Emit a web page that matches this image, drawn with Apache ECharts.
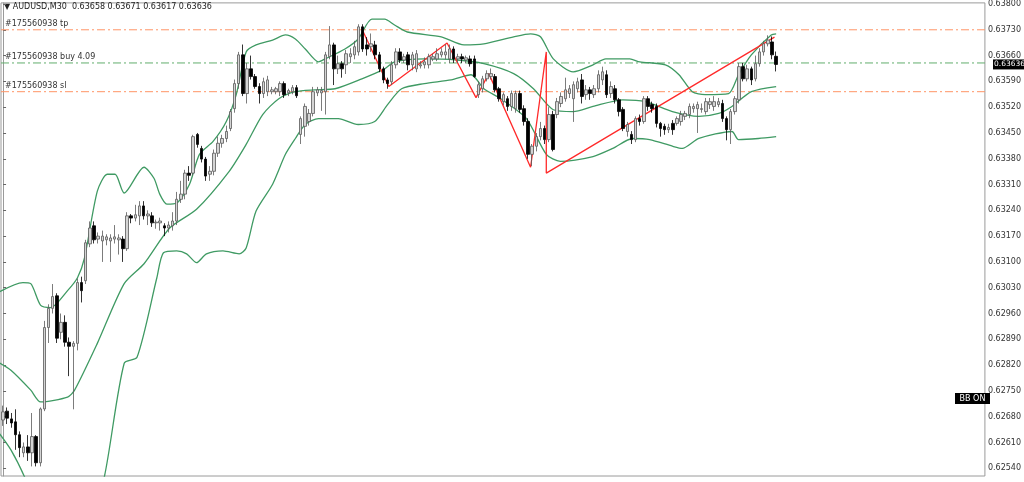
<!DOCTYPE html>
<html>
<head>
<meta charset="utf-8">
<script src="https://cdn.jsdelivr.net/npm/echarts@6/dist/echarts.min.js"></script>
<style>html,body{margin:0;padding:0;background:#fff}#chart{width:1024px;height:482px}</style>
</head>
<body>
<div id="chart"></div>
<script>
// AUDUSD M30 with Bollinger bands
const SLOTS = 238;

const opens = [
  .62671,.62695,.62674,.62666,.62631,.62582,.62598,.62582,.62626,.62555,
  .62701,.62922,.62974,.63008,.62909,.62936,.62882,.62871,.62879,.63044,
  .63049,.63149,.63198,.63162,.63157,.63160,.63157,.63162,.63160,.63162,
  .63136,.63225,.63219,.63225,.63252,.63225,.63225,.63206,.63206,.63198,
  .63192,.63198,.63211,.63270,.63284,.63341,.63341,.63446,.63408,.63379,
  .63338,.63346,.63395,.63422,.63435,.63462,.63516,.63584,.63662,.63557,
  .63624,.63603,.63576,.63557,.63562,.63562,.63562,.63562,.63584,.63559,
  .63562,.63573,.63446,.63468,.63481,.63503,.63559,.63559,.63562,.63657,
  .63689,.63624,.63638,.63635,.63657,.63662,.63670,.63738,.63689,.63684,
  .63689,.63662,.63624,.63594,.63589,.63635,.63670,.63648,.63662,.63635,
  .63624,.63632,.63635,.63635,.63651,.63651,.63662,.63662,.63651,.63678,
  .63651,.63657,.63648,.63651,.63651,.63554,.63570,.63597,.63603,.63603,
  .63570,.63535,.63543,.63522,.63516,.63557,.63516,.63481,.63392,.63414,
  .63440,.63462,.63432,.63500,.63500,.63530,.63543,.63557,.63543,.63570,
  .63594,.63554,.63567,.63554,.63570,.63594,.63608,.63557,.63570,.63540,
  .63514,.63454,.63446,.63432,.63489,.63481,.63543,.63527,.63522,.63476,
  .63468,.63459,.63476,.63476,.63481,.63495,.63500,.63516,.63516,.63514,
  .63508,.63527,.63522,.63527,.63530,.63489,.63459,.63508,.63540,.63630,
  .63597,.63624,.63597,.63638,.63670,.63692,.63697,.63658
];
const closes = [
  .62693,.62676,.62663,.62631,.62596,.62598,.62582,.62626,.62555,.62701,
  .62922,.62974,.63006,.62893,.62936,.62882,.62871,.62879,.63044,.63022,
  .63152,.63192,.63160,.63170,.63170,.63168,.63165,.63168,.63165,.63136,
  .63225,.63219,.63228,.63252,.63225,.63230,.63206,.63208,.63211,.63192,
  .63200,.63211,.63270,.63284,.63341,.63335,.63440,.63419,.63379,.63333,
  .63346,.63395,.63422,.63435,.63454,.63508,.63584,.63662,.63557,.63624,
  .63603,.63576,.63557,.63589,.63594,.63567,.63570,.63584,.63554,.63565,
  .63573,.63551,.63489,.63522,.63503,.63562,.63567,.63565,.63662,.63689,
  .63624,.63638,.63624,.63665,.63665,.63684,.63738,.63678,.63678,.63692,
  .63662,.63624,.63594,.63584,.63635,.63670,.63648,.63657,.63635,.63662,
  .63665,.63635,.63643,.63657,.63657,.63665,.63670,.63670,.63678,.63651,
  .63657,.63651,.63654,.63638,.63603,.63581,.63597,.63611,.63611,.63567,
  .63543,.63554,.63522,.63557,.63557,.63514,.63481,.63392,.63414,.63440,
  .63462,.63432,.63500,.63405,.63535,.63549,.63567,.63570,.63581,.63589,
  .63549,.63567,.63557,.63570,.63608,.63616,.63554,.63576,.63540,.63508,
  .63462,.63473,.63432,.63489,.63481,.63543,.63522,.63516,.63476,.63462,
  .63459,.63465,.63459,.63489,.63500,.63503,.63522,.63522,.63527,.63516,
  .63535,.63535,.63535,.63535,.63489,.63459,.63508,.63543,.63630,.63597,
  .63624,.63594,.63638,.63670,.63692,.63702,.63662,.63636
];
const lows = [
  .62655,.62660,.62650,.62590,.62570,.62570,.62560,.62545,.62545,.62545,
  .62695,.62880,.62960,.62880,.62890,.62870,.62790,.62700,.62860,.62990,
  .63040,.63140,.63150,.63150,.63100,.63145,.63100,.63150,.63120,.63100,
  .63130,.63205,.63210,.63200,.63215,.63200,.63195,.63190,.63185,.63170,
  .63180,.63185,.63200,.63260,.63270,.63320,.63335,.63410,.63370,.63320,
  .63320,.63335,.63385,.63410,.63425,.63455,.63505,.63570,.63550,.63530,
  .63595,.63570,.63530,.63545,.63550,.63555,.63555,.63550,.63545,.63550,
  .63555,.63545,.63420,.63440,.63470,.63495,.63550,.63510,.63500,.63650,
  .63580,.63610,.63600,.63610,.63640,.63650,.63660,.63670,.63660,.63670,
  .63650,.63615,.63585,.63570,.63580,.63625,.63640,.63640,.63620,.63620,
  .63615,.63625,.63625,.63625,.63645,.63645,.63655,.63650,.63640,.63640,
  .63640,.63640,.63640,.63630,.63600,.63545,.63560,.63590,.63595,.63560,
  .63535,.63525,.63510,.63510,.63505,.63505,.63470,.63380,.63360,.63400,
  .63430,.63420,.63425,.63400,.63490,.63520,.63535,.63545,.63480,.63560,
  .63530,.63540,.63540,.63545,.63560,.63580,.63545,.63545,.63530,.63495,
  .63455,.63440,.63420,.63425,.63470,.63475,.63510,.63505,.63465,.63440,
  .63445,.63450,.63445,.63470,.63470,.63485,.63490,.63505,.63450,.63505,
  .63500,.63515,.63510,.63520,.63480,.63430,.63420,.63500,.63530,.63590,
  .63590,.63580,.63590,.63630,.63660,.63685,.63650,.63617
];
const highs = [
  .62710,.62705,.62690,.62700,.62640,.62610,.62630,.62690,.62630,.62705,
  .62940,.62985,.63040,.63015,.62960,.62955,.62895,.62885,.63055,.63060,
  .63160,.63210,.63210,.63180,.63185,.63175,.63175,.63200,.63175,.63170,
  .63235,.63230,.63255,.63265,.63265,.63240,.63235,.63215,.63220,.63205,
  .63210,.63235,.63290,.63320,.63350,.63360,.63445,.63450,.63415,.63385,
  .63360,.63405,.63440,.63445,.63470,.63515,.63595,.63670,.63690,.63640,
  .63660,.63610,.63585,.63600,.63605,.63575,.63575,.63590,.63590,.63570,
  .63580,.63580,.63495,.63530,.63515,.63575,.63575,.63575,.63670,.63740,
  .63695,.63660,.63645,.63675,.63680,.63700,.63745,.63745,.63710,.63720,
  .63700,.63670,.63630,.63600,.63645,.63680,.63680,.63665,.63670,.63670,
  .63675,.63645,.63655,.63665,.63665,.63680,.63680,.63690,.63690,.63685,
  .63665,.63665,.63660,.63660,.63660,.63590,.63605,.63620,.63625,.63610,
  .63575,.63560,.63550,.63565,.63565,.63565,.63525,.63490,.63420,.63450,
  .63480,.63470,.63520,.63510,.63545,.63560,.63600,.63580,.63590,.63600,
  .63610,.63580,.63575,.63580,.63620,.63630,.63620,.63590,.63580,.63545,
  .63520,.63480,.63455,.63495,.63500,.63550,.63550,.63535,.63530,.63480,
  .63475,.63475,.63485,.63495,.63510,.63510,.63530,.63530,.63535,.63530,
  .63545,.63545,.63550,.63545,.63540,.63495,.63515,.63550,.63640,.63640,
  .63635,.63630,.63660,.63680,.63700,.63715,.63712,.63671
];

// Bollinger bands: [bar index, price]
const bbUpper = [
  [-1.2,.63017],[4.8,.63044],[6.7,.63041],[9.1,.62982],[11.5,.62976],[15.6,.63022],[18,.63057],
  [19.7,.63111],[22.8,.63292],[25.2,.63338],[27.1,.63338],[29.3,.63287],[34.1,.63357],[36.5,.63327],
  [37.9,.63284],[39.6,.63257],[42,.63260],[45.1,.63311],[47.5,.63392],[50.8,.63427],[54,.63481],
  [56.4,.63554],[58.8,.63670],[61.2,.63689],[65.2,.63702],[68.3,.63716],[70.7,.63705],[73.1,.63678],
  [76.3,.63643],[77.9,.63651],[82.7,.63678],[85.9,.63705],[89.2,.63759],[92.3,.63759],[94.7,.63743],
  [97.8,.63724],[106,.63711],[111.5,.63689],[116.3,.63692],[123.5,.63711],[127.6,.63719],[130,.63711],
  [133.1,.63651],[137.9,.63616],[142.7,.63635],[145.8,.63651],[151.6,.63651],[154,.63643],[160.2,.63635],
  [163.5,.63608],[166.7,.63562],[169.8,.63554],[175.5,.63557],[177.9,.63608],[181,.63662],[185.8,.63716],
  [187,.63719]
];
const bbMiddle = [
  [-1.2,.62828],[1.9,.62806],[6.7,.62752],[9.1,.62720],[15.6,.62733],[17.3,.62752],[22.8,.62879],
  [29.3,.63041],[34.1,.63095],[40.3,.63192],[46.8,.63243],[54.7,.63346],[58.8,.63419],[62.8,.63500],
  [66.7,.63543],[70.7,.63562],[75.5,.63567],[80.3,.63570],[86.8,.63597],[92.3,.63624],[94.7,.63643],
  [101.9,.63651],[109.8,.63648],[116.3,.63638],[123.5,.63611],[128.3,.63570],[133.1,.63513],[137.9,.63508],
  [142.7,.63522],[149.9,.63540],[155.4,.63535],[161.9,.63508],[168.3,.63495],[173.1,.63503],[176.3,.63522],
  [181,.63562],[187,.63576]
];
const bbLower = [
  [-1.2,.62639],[1.9,.62590],[5.3,.62514],[7.2,.62455],[13.2,.62347],[20.4,.62374],[24.5,.62517],
  [29.3,.62825],[32.4,.62841],[37.2,.63057],[38.8,.63125],[42,.63130],[44.4,.63122],[46.8,.63098],
  [49.2,.63122],[53.2,.63130],[57.1,.63122],[58.8,.63138],[61.2,.63238],[65.2,.63311],[68.3,.63392],
  [70.7,.63435],[73.1,.63473],[76.3,.63489],[81.1,.63489],[85.9,.63473],[89.9,.63481],[93,.63527],
  [96.4,.63570],[101.9,.63584],[108.4,.63594],[113.2,.63608],[116.3,.63570],[120.4,.63543],[126.6,.63489],
  [131.4,.63392],[134.8,.63373],[142.7,.63386],[147.5,.63408],[152.3,.63435],[156.4,.63432],[161.9,.63414],
  [164.3,.63408],[168.3,.63435],[176.3,.63454],[177.9,.63432],[182.7,.63435],[187,.63440]
];
const zigzag = [
  [86.8,.63732],[93.3,.63576],[107.4,.63694],[114.4,.63546],[117.5,.63611],
  [127.6,.63357],[131.4,.63670],[131.4,.63341],[186.6,.63710]
];

const orderLevels = [
  { name: '#175560938 tp', value: 0.63730, color: '#ff9466' },
  { name: '#175560938 buy 4.09', value: 0.63640, color: '#62ad6c' },
  { name: '#175560938 sl', value: 0.63562, color: '#ff9466' }
];
const yTicks = [0.62540,0.62610,0.62680,0.62750,0.62820,0.62890,0.62960,0.63030,0.63100,0.63170,
  0.63240,0.63310,0.63380,0.63450,0.63520,0.63590,0.63660,0.63730,0.63800];
const lastPrice = 0.63636;
const header = '\u25BC AUDUSD,M30  0.63658 0.63671 0.63617 0.63636';

const chart = echarts.init(document.getElementById('chart'));
const font = 'Tahoma, "DejaVu Sans", sans-serif';
const bandLine = (data) => ({
  type: 'line', xAxisIndex: 1, data, showSymbol: false, smooth: 0.25,
  lineStyle: { color: '#3f9a63', width: 1.3 }, silent: true, z: 1
});
const levelLine = (l) => ({
  type: 'line', xAxisIndex: 1, showSymbol: false, silent: true, z: 0,
  data: [[-0.5, l.value], [SLOTS - 0.5, l.value]],
  lineStyle: { color: l.color, type: [8, 3, 2, 3], width: 1 }
});

chart.setOption({
  animation: false,
  grid: { left: 1, right: 31, top: 1, bottom: 6, show: true, borderColor: '#9a9a9a', borderWidth: 1 },
  xAxis: [
    { type: 'category', data: Array.from({ length: SLOTS }, (_, i) => String(i)), show: false },
    { type: 'value', min: -0.5, max: SLOTS - 0.5, show: false }
  ],
  yAxis: {
    type: 'value', position: 'right', min: 0.62519, max: 0.63803, scale: true,
    axisLine: { show: true, lineStyle: { color: '#9a9a9a' } },
    axisTick: { show: true, customValues: yTicks, length: 3, lineStyle: { color: '#666' } },
    axisLabel: { customValues: yTicks, formatter: v => v.toFixed(5), fontSize: 8, color: '#333', margin: 3, fontFamily: font },
    splitLine: { show: false }
  },
  series: [
    ...orderLevels.map(levelLine),
    bandLine(bbUpper), bandLine(bbMiddle), bandLine(bbLower),
    {
      type: 'line', xAxisIndex: 1, data: zigzag, showSymbol: false,
      lineStyle: { color: '#ff2a2a', width: 1.3 }, silent: true, z: 3
    },
    {
      type: 'candlestick', z: 4,
      data: opens.map((o, i) => [o, closes[i], lows[i], highs[i]]),
      barWidth: 3,
      itemStyle: { color: '#d4d4d4', color0: '#000', borderColor: '#5a5a5a', borderColor0: '#000', borderWidth: 0.8 }
    }
  ]
});

const py = chart.convertToPixel({ yAxisIndex: 0 }, lastPrice);
chart.setOption({
  graphic: [
    { type: 'text', left: 4, top: 3, style: { text: header, fontSize: 8, fill: '#222', fontFamily: font } },
    ...orderLevels.map(l => ({
      type: 'text', left: 5, top: chart.convertToPixel({ yAxisIndex: 0 }, l.value) - 10,
      style: { text: l.name, fontSize: 8, fill: '#333', fontFamily: font }
    })),
    { type: 'group', left: 955, top: 393, children: [
      { type: 'rect', shape: { x: 0, y: 0, width: 35, height: 11 }, style: { fill: '#000' } },
      { type: 'text', style: { x: 17.5, y: 5.5, text: 'BB ON', fill: '#fff', fontSize: 8, align: 'center', verticalAlign: 'middle', fontFamily: font } }
    ] },
    { type: 'group', left: 993, top: py - 5, z: 100, children: [
      { type: 'rect', shape: { x: 0, y: 0, width: 31, height: 10 }, style: { fill: '#000' } },
      { type: 'text', style: { x: 1, y: 5, text: lastPrice.toFixed(5), fill: '#fff', fontSize: 7.5, verticalAlign: 'middle', fontFamily: font } }
    ] }
  ]
});

window.addEventListener('resize', () => chart.resize());
</script>
</body>
</html>
